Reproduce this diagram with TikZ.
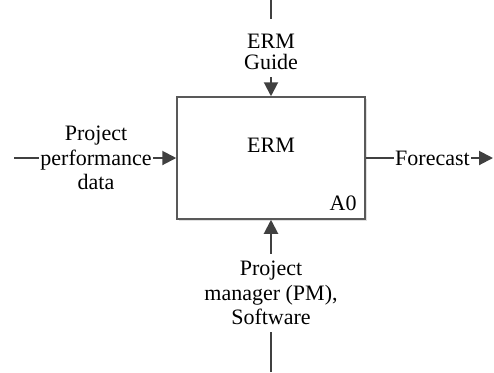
\documentclass[tikz,border=0pt]{standalone}
\usepackage{fontspec}
\setmainfont{Liberation Serif}
\usepackage{tikz}
\usetikzlibrary{arrows.meta,shadows}

\begin{document}
\begin{tikzpicture}[x=0.5pt,y=-0.5pt,font=\fontsize{11}{12.2}\selectfont,
                   flow/.style={draw=black!75,line width=1pt},
                   into/.style={flow,-{Triangle[length=7pt,width=7pt]}},
                   lbl/.style={align=center,inner xsep=0.5pt,inner ysep=3.5pt},
                   fbox/.style={draw=black!65,line width=0.75pt,fill=white,minimum width=94pt,minimum height=61pt,
                                drop shadow={shadow xshift=1pt,shadow yshift=-1pt,opacity=1,fill=black!12}}]
\useasboundingbox (0,0) rectangle (494,372);
\node[fbox] (erm) at (271,158) {};
\node (title) at (271,145) {ERM};
\node[anchor=base east,inner sep=0pt] (code) at (357,210) {A0};
\node[lbl] (guide) at (271,52) {ERM\\[-1.5pt]Guide};
\node[lbl] (data) at (96,158) {Project\\performance\\data};
\node[lbl] (fcst) at (432.5,158) {Forecast};
\node[lbl] (mech) at (271,293) {Project\\manager (PM),\\Software};
\coordinate (ctrl) at (271,0);
\coordinate (inp) at (14,158);
\coordinate (outp) at (493,158);
\coordinate (mechin) at (271,372);
\draw[flow,shorten >=4pt] (ctrl) -- (guide.north);
\draw[into] (guide.south) -- (erm.north);
\draw[flow] (inp) -- (data.west);
\draw[into] (data.east) -- (erm.west);
\draw[flow] (erm.east) -- (fcst.west);
\draw[into] (fcst.east) -- (outp);
\draw[flow] (mechin) -- (mech.south);
\draw[into] (mech.north) -- (erm.south);
\end{tikzpicture}
\end{document}
